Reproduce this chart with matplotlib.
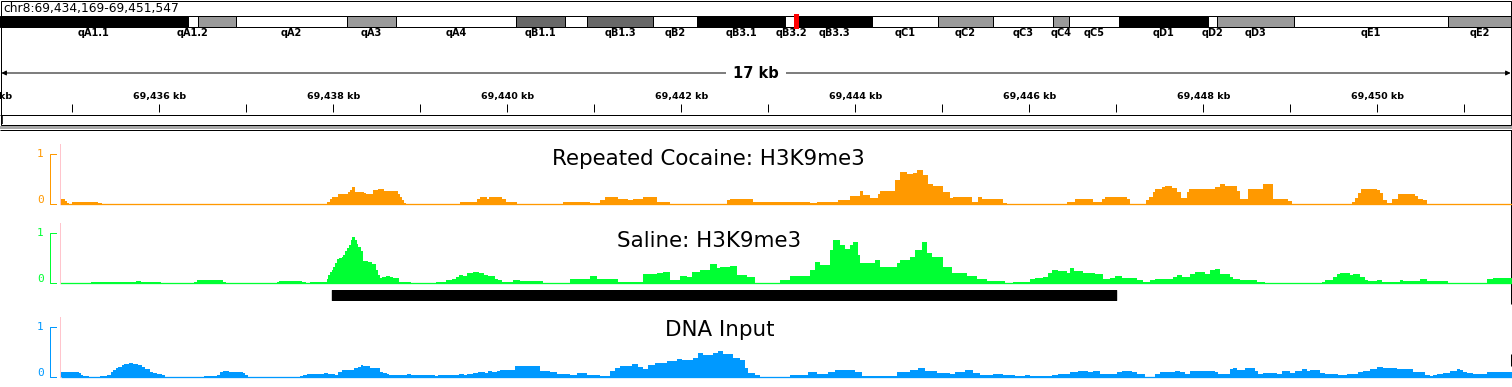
## IGV-style view of three H3K9me3 / input coverage tracks on mouse chr8
import matplotlib
matplotlib.use("Agg")
import matplotlib.pyplot as plt
from matplotlib.patches import Rectangle

## Data
chrom = "chr8"
region_start = 69434169
region_end = 69451547

# chr8 ideogram (mm9): band names, band starts (Mb), stain
chrom_len_mb = 131.74
band_names = ["qA1.1", "qA1.2", "qA1.3", "qA2", "qA3", "qA4", "qB1.1", "qB1.2",
              "qB1.3", "qB2", "qB3.1", "qB3.2", "qB3.3", "qC1", "qC2", "qC3",
              "qC4", "qC5", "qD1", "qD2", "qD3", "qE1", "qE2"]
band_starts_mb = [0, 16.39, 17.26, 20.58, 30.25, 34.53, 44.99, 49.26,
                  51.18, 56.94, 60.77, 68.44, 69.49, 76.03, 81.78, 86.58,
                  91.81, 93.21, 97.57, 105.33, 106.11, 112.82, 126.25]
band_stains = ["gpos100", "gneg", "gpos33", "gneg", "gpos33", "gneg", "gpos66", "gneg",
               "gpos66", "gneg", "gpos100", "gneg", "gpos100", "gneg", "gpos33", "gneg",
               "gpos33", "gneg", "gpos100", "gneg", "gpos33", "gneg", "gpos33"]

# called region drawn under the saline track
peak_start = 69437985
peak_end = 69446996

# coverage as steps: start offset (bp from region_start) and normalised signal
cocaine_pos = [690, 747, 770, 793, 828, 1126, 1172, 3759, 3793, 3816,
               3885, 4000, 4023, 4046, 4080, 4126, 4184, 4207, 4287, 4345,
               4414, 4575, 4598, 4621, 4644, 4667, 5287, 5483, 5517, 5598,
               5621, 5770, 5816, 5942, 6471, 6781, 6896, 6954, 7103, 7218,
               7276, 7391, 7552, 7701, 8356, 8391, 8655, 9310, 9391, 9632,
               9770, 9885, 9919, 10000, 10092, 10115, 10287, 10345, 10425, 10494,
               10540, 10609, 10666, 10724, 10839, 10919, 10954, 11172, 11241, 11287,
               11528, 11574, 12264, 12356, 12563, 12666, 12701, 12954, 12988, 13172,
               13207, 13253, 13276, 13356, 13390, 13471, 13528, 13574, 13643, 13666,
               13965, 14023, 14080, 14218, 14253, 14321, 14344, 14517, 14632, 14804,
               14850, 15540, 15574, 15609, 15643, 15827, 15862, 15896, 15942, 15965,
               16000, 16069, 16264, 16299, 16356, 16402]
cocaine_val = [0.10, 0.07, 0.03, 0, 0.05, 0.02, 0, 0.05, 0.11, 0.14,
               0.20, 0.24, 0.29, 0.34, 0.25, 0.25, 0.23, 0.20, 0.28, 0.30,
               0.26, 0.21, 0.15, 0.08, 0.03, 0, 0.05, 0.10, 0.14, 0.10,
               0.14, 0.10, 0.05, 0, 0.05, 0.03, 0.08, 0.14, 0.11, 0.08,
               0.11, 0.14, 0.05, 0, 0.08, 0.11, 0.05, 0.02, 0.05, 0.09,
               0.17, 0.26, 0.19, 0.13, 0.20, 0.27, 0.48, 0.65, 0.61, 0.63,
               0.68, 0.58, 0.41, 0.36, 0.24, 0.13, 0.15, 0.05, 0.14, 0.10,
               0.03, 0, 0.05, 0.10, 0.05, 0.10, 0.14, 0.11, 0, 0.08,
               0.15, 0.25, 0.30, 0.35, 0.37, 0.33, 0.25, 0.13, 0.25, 0.30,
               0.35, 0.40, 0.37, 0.27, 0.11, 0.10, 0.30, 0.40, 0.11, 0.06,
               0, 0.05, 0.13, 0.23, 0.30, 0.28, 0.23, 0.08, 0.03, 0.02,
               0.11, 0.20, 0.16, 0.11, 0.08, 0]

saline_pos = [690, 1046, 1563, 1621, 1851, 2230, 2264, 2563, 2598, 3184,
              3207, 3471, 3517, 3563, 3759, 3770, 3793, 3816, 3828, 3851,
              3874, 3897, 3931, 3942, 3965, 3988, 4011, 4034, 4046, 4080,
              4103, 4115, 4149, 4172, 4230, 4276, 4322, 4345, 4368, 4391,
              4437, 4483, 4517, 4586, 4724, 5011, 5126, 5195, 5241, 5276,
              5322, 5368, 5437, 5506, 5563, 5609, 5690, 5724, 5770, 5896,
              5977, 6241, 6552, 6781, 6862, 7103, 7276, 7391, 7552, 7621,
              7701, 7816, 7896, 7954, 8046, 8161, 8241, 8276, 8391, 8471,
              8586, 8678, 8965, 9080, 9310, 9368, 9425, 9540, 9575, 9655,
              9712, 9770, 9804, 9862, 9885, 10057, 10115, 10310, 10345, 10460,
              10517, 10597, 10655, 10712, 10839, 10942, 11034, 11115, 11230, 11345,
              11494, 11551, 11643, 11839, 11896, 11988, 12046, 12092, 12161, 12264,
              12299, 12345, 12448, 12586, 12678, 12758, 12816, 12896, 13069, 13138,
              13218, 13276, 13483, 13528, 13586, 13678, 13735, 13850, 13908, 13965,
              14023, 14138, 14172, 14253, 14448, 14540, 15195, 15230, 15322, 15368,
              15402, 15517, 15551, 15632, 15689, 15724, 15827, 15885, 16092, 16126,
              16322, 16402, 16643, 17092, 17161]
saline_val = [0, 0.03, 0.05, 0.03, 0, 0.03, 0.07, 0.03, 0, 0.03,
              0.05, 0.03, 0, 0.03, 0.08, 0.17, 0.22, 0.27, 0.32, 0.40,
              0.49, 0.50, 0.53, 0.57, 0.65, 0.70, 0.77, 0.87, 0.93, 0.87,
              0.78, 0.72, 0.65, 0.45, 0.43, 0.38, 0.27, 0.17, 0.11, 0.13,
              0.15, 0.13, 0.11, 0.03, 0, 0.03, 0.07, 0.09, 0.13, 0.17,
              0.15, 0.20, 0.23, 0.20, 0.17, 0.15, 0.09, 0.06, 0.03, 0.07,
              0.05, 0, 0.09, 0.15, 0.08, 0.03, 0.02, 0.19, 0.21, 0.23,
              0.07, 0.15, 0.13, 0.23, 0.27, 0.38, 0.31, 0.32, 0.35, 0.16,
              0.12, 0, 0.07, 0.15, 0.27, 0.43, 0.37, 0.67, 0.87, 0.77,
              0.69, 0.77, 0.83, 0.57, 0.40, 0.47, 0.32, 0.40, 0.47, 0.53,
              0.67, 0.82, 0.60, 0.53, 0.33, 0.20, 0.21, 0.15, 0.08, 0.05,
              0.05, 0, 0.03, 0.08, 0.11, 0.13, 0.21, 0.27, 0.25, 0.21,
              0.31, 0.25, 0.21, 0.18, 0.09, 0.11, 0.15, 0.11, 0.06, 0.03,
              0.07, 0.09, 0.13, 0.17, 0.13, 0.19, 0.23, 0.19, 0.27, 0.29,
              0.19, 0.13, 0.09, 0.07, 0.03, 0, 0.03, 0.07, 0.13, 0.19,
              0.21, 0.16, 0.19, 0.13, 0.07, 0.05, 0.07, 0.03, 0.07, 0.05,
              0.09, 0.05, 0, 0.09, 0.11]

input_pos = [701, 724, 908, 931, 954, 1023, 1149, 1230, 1276, 1299,
             1333, 1356, 1402, 1425, 1483, 1529, 1586, 1632, 1667, 1724,
             1759, 1805, 1862, 1896, 2345, 2494, 2529, 2563, 2632, 2793,
             2816, 2850, 3448, 3483, 3529, 3724, 3770, 3851, 3885, 3931,
             4069, 4115, 4149, 4172, 4253, 4368, 4402, 4448, 4471, 4678,
             4724, 5000, 5034, 5276, 5333, 5368, 5437, 5494, 5575, 5609,
             5655, 5712, 5747, 5919, 6207, 6322, 6402, 6552, 6632, 6747,
             6896, 7011, 7069, 7126, 7264, 7333, 7391, 7448, 7529, 7666,
             7781, 7839, 7965, 8023, 8080, 8195, 8253, 8310, 8425, 8506,
             8563, 8597, 8678, 8735, 9080, 9287, 9391, 9517, 9597, 9827,
             9908, 10310, 10460, 10551, 10632, 10770, 10919, 10977, 11092, 11184,
             11264, 11414, 11528, 11666, 11781, 11839, 12092, 12161, 12299, 12391,
             12506, 12563, 12643, 12839, 12896, 13011, 13069, 13161, 13276, 13333,
             13505, 13563, 13620, 13678, 13965, 14000, 14138, 14172, 14218, 14310,
             14425, 14459, 14517, 14678, 14735, 14827, 14885, 14965, 15023, 15057,
             15172, 15230, 15379, 15482, 15609, 15666, 15747, 15827, 15896, 15977,
             16057, 16092, 16241, 16379, 16436, 16471, 16517, 16586, 16666, 16747,
             16781, 16816, 16862, 16931, 17092, 17161]
input_val = [0.10, 0.11, 0.08, 0.05, 0.03, 0, 0.03, 0.05, 0.11, 0.15,
             0.18, 0.21, 0.25, 0.27, 0.29, 0.27, 0.25, 0.21, 0.17, 0.11,
             0.09, 0.07, 0.04, 0, 0.03, 0.05, 0.11, 0.13, 0.11, 0.08,
             0.05, 0, 0.03, 0.05, 0.07, 0.09, 0.07, 0.05, 0.11, 0.15,
             0.18, 0.21, 0.25, 0.23, 0.19, 0.11, 0.08, 0.06, 0.05, 0.07,
             0.05, 0.03, 0.05, 0.07, 0.05, 0.07, 0.09, 0.11, 0.09, 0.13,
             0.11, 0.13, 0.15, 0.23, 0.13, 0.11, 0.07, 0.05, 0.08, 0.05,
             0.03, 0.13, 0.18, 0.23, 0.27, 0.21, 0.17, 0.25, 0.29, 0.33,
             0.37, 0.35, 0.38, 0.48, 0.44, 0.48, 0.53, 0.47, 0.39, 0.35,
             0.18, 0.08, 0.04, 0.01, 0.05, 0.10, 0.06, 0.11, 0.15, 0.11,
             0.03, 0.11, 0.15, 0.19, 0.13, 0.09, 0.07, 0.11, 0.14, 0.09,
             0.05, 0.07, 0.05, 0.03, 0.05, 0.03, 0.05, 0.07, 0.10, 0.13,
             0.11, 0.13, 0.07, 0.11, 0.13, 0.10, 0.07, 0.01, 0.07, 0.11,
             0.13, 0.11, 0.07, 0.13, 0.11, 0.07, 0.16, 0.19, 0.15, 0.19,
             0.13, 0.07, 0.09, 0.07, 0.12, 0.09, 0.13, 0.17, 0.13, 0.14,
             0.09, 0.07, 0.05, 0.07, 0.10, 0.13, 0.16, 0.20, 0.18, 0.19,
             0.16, 0.17, 0.11, 0.04, 0.02, 0.04, 0.07, 0.09, 0.13, 0.17,
             0.15, 0.11, 0.09, 0.07, 0.11, 0.11]

stain_colors = {"gpos100": "black", "gpos66": "#686868", "gpos33": "#9a9a9a", "gneg": "white"}

## Figure set up in pixels
W, H = 1512, 387
PX = 0.72  # one pixel in points
fig = plt.figure(figsize=(W / 100, H / 100), dpi=100)


def px_axes(left, top, width, height):
    ax = fig.add_axes([left / W, 1 - (top + height) / H, width / W, height / H])
    ax.set_axis_off()
    return ax


# panel borders
frame = px_axes(0, 0, W, H)
frame.set_xlim(0, W)
frame.set_ylim(H, 0)
frame.add_patch(Rectangle((0.5, 0.5), 1510.5, 124, fill=False, ec="black", lw=PX))
frame.hlines(114.5, 0, 1511, color="black", lw=PX)
frame.vlines(2.2, 114.5, 124, color="black", lw=1.6 * PX)
frame.add_patch(Rectangle((0, 125.5), W, 3, color="#a8a8a8", lw=0))
frame.hlines(129.5, 0, W, color="black", lw=PX)
frame.vlines(1511, 129.5, 304, color="black", lw=PX)
frame.vlines(1511, 354, 366, color="black", lw=PX)
frame.text(3, 8.5, "{}:{:,}-{:,}".format(chrom, region_start, region_end),
           fontsize=8.8, va="center", ha="left")

## Ideogram
ideo = px_axes(0, 16, 1511, 10.5)
ideo.set_xlim(0, chrom_len_mb)
ideo.set_ylim(0, 1)
band_ends_mb = band_starts_mb[1:] + [chrom_len_mb]
widths = [e - s for s, e in zip(band_starts_mb, band_ends_mb)]
ideo.bar(band_starts_mb, 1, width=widths, align="edge",
         color=[stain_colors[s] for s in band_stains],
         edgecolor="black", linewidth=PX, clip_on=False)

renderer = fig.canvas.get_renderer()
last_right = -1e9
for name, s, e in zip(band_names, band_starts_mb, band_ends_mb):
    t = ideo.text((s + e) / 2, -0.58, name, ha="center", va="center",
                  fontsize=7, fontweight="bold", clip_on=False)
    bb = t.get_window_extent(renderer)
    if bb.x0 < last_right + 4:
        t.set_visible(False)
    else:
        last_right = bb.x1

# current region marker (drawn at least a few pixels wide)
centre_mb = (region_start + region_end) / 2 / 1e6
mark_w = max((region_end - region_start) / 1e6, 5 * chrom_len_mb / 1511)
ideo.add_patch(Rectangle((centre_mb - mark_w / 2, -0.22), mark_w, 1.42,
                         color="#ff0000", lw=0, clip_on=False, zorder=5))

## Ruler
ruler = px_axes(0, 60, W, 64)
ruler.set_xlim(region_start, region_end)
ruler.set_ylim(124, 60)
ruler.annotate("", xy=(region_end, 73), xytext=(region_start, 73),
               arrowprops=dict(arrowstyle="<|-|>", color="black", lw=PX,
                               mutation_scale=7, shrinkA=1, shrinkB=1))
ruler.text((region_start + region_end) / 2, 73,
           "{} kb".format(round((region_end - region_start) / 1000)),
           ha="center", va="center", fontsize=10.5, fontweight="bold",
           bbox=dict(fc="white", ec="none", pad=5))
ticks_kb = list(range(region_start // 1000 + 1, region_end // 1000 + 1))
ruler.vlines([k * 1000 for k in ticks_kb], 104, 112, color="black", lw=PX)
# the first label sits mostly left of the view, so only its "kb" shows
for k in range(region_start // 1000, region_end // 1000 + 1, 2):
    ruler.text(k * 1000, 96, "{:,} kb".format(k), ha="center", va="center",
               fontsize=6.8, fontweight="bold")


## Tracks
def draw_track(top, pos, val, color, title, title_x, title_y):
    ax = px_axes(0, top, W, 50)
    ax.set_xlim(region_start, region_end)
    ax.set_ylim(0, 1)
    xs = [region_start + p for p in pos] + [region_end]
    ys = list(val) + [val[-1]]
    ax.fill_between(xs, ys, step="post", color=color, lw=0, clip_on=False)
    ax.hlines(0, xs[0], region_end, color=color, lw=1.3 * PX, clip_on=False)
    tr = ax.get_yaxis_transform()
    # pink start line and data range bracket
    ax.plot([59.5 / W] * 2, [0, 1.2], transform=tr, color="#ffc4cc", lw=PX, clip_on=False)
    ax.plot([55.5 / W, 49.5 / W, 49.5 / W, 55.5 / W], [1, 1, 0, 0], transform=tr,
            color=color, lw=PX, clip_on=False)
    ax.text(40.5 / W, 1.0, "1", transform=tr, color=color, fontsize=8,
            family="DejaVu Sans Mono", ha="center", va="center")
    ax.text(40.5 / W, 0.08, "0", transform=tr, color=color, fontsize=8,
            family="DejaVu Sans Mono", ha="center", va="center")
    ax.text(title_x / W, title_y, title, transform=tr, fontsize=15.4,
            ha="center", va="baseline", color="black")
    return ax


draw_track(154, cocaine_pos, cocaine_val, "#ff9900", "Repeated Cocaine: H3K9me3", 708, 0.78)
draw_track(233.3, saline_pos, saline_val, "#00ff33", "Saline: H3K9me3", 708.7, 0.72)
draw_track(327.3, input_pos, input_val, "#0099ff", "DNA Input", 720, 0.83)

# peak bar
peak = px_axes(0, 290, W, 10)
peak.set_xlim(region_start, region_end)
peak.set_ylim(0, 1)
peak.broken_barh([(peak_start, peak_end - peak_start)], (0, 1), color="black")

plt.savefig("out.png", dpi=100)
